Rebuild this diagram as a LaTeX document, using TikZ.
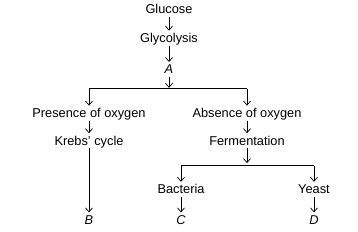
\documentclass[tikz,border=0pt]{standalone}
\usepackage{fontspec}
\setmainfont{Liberation Sans}
\usetikzlibrary{arrows.meta, positioning}

\begin{document}
\begin{tikzpicture}[
        lbl/.style={font=\fontsize{12.8}{15}\selectfont, text height=9.2pt,
                    text depth=2.7pt, inner sep=0pt},
        var/.style={lbl, font=\fontsize{12.8}{15}\selectfont\itshape},
        arr/.style={-{Straight Barb[length=4pt,width=7pt]}, line width=0.7pt,
                    shorten >=2.5pt, shorten <=0.3pt},
        bar/.style={line width=0.7pt}]
      \useasboundingbox (0pt,0pt) rectangle (358pt,-232pt);
      \node[lbl] (glu) at (169pt,-10.75pt) {Glucose};
      \node[lbl, below=16.3pt of glu] (gly) {Glycolysis};
      \node[var, below=19pt of gly] (a) {A};
      \coordinate[below=11.5pt of a] (j1);
      \node[lbl, below=31.3pt of a, xshift=-80pt] (pres) {Presence of oxygen};
      \node[lbl, below=31.3pt of a, xshift=78pt] (abs) {Absence of oxygen};
      \node[lbl, below=15.3pt of pres] (krebs) {Krebs' cycle};
      \node[lbl, below=15.3pt of abs] (ferm) {Fermentation};
      \coordinate[below=17.6pt of ferm] (j2);
      \node[lbl, below=36.3pt of ferm, xshift=-66pt] (bact) {Bacteria};
      \node[lbl, below=36.3pt of ferm, xshift=67pt] (yeast) {Yeast};
      \node[var, below=18.3pt of bact] (c) {C};
      \node[var, below=18.3pt of yeast] (d) {D};
      \node[var] (b) at (krebs |- c) {B};
      % main chain
      \draw[arr] (glu) -- (gly);
      \draw[arr] (gly) -- (a);
      \draw[arr, shorten >=0.5pt] (a) -- (j1);
      \draw[bar] (j1 -| pres) -- (j1 -| abs);
      \draw[arr] (j1 -| pres) -- (pres);
      \draw[arr] (j1 -| abs) -- (abs);
      % aerobic side
      \draw[arr] (pres) -- (krebs);
      \draw[arr] (krebs) -- (b);
      % anaerobic side
      \draw[arr] (abs) -- (ferm);
      \draw[arr] (ferm) -- (j2);
      \draw[bar] (j2 -| bact) -- (j2 -| yeast);
      \draw[arr] (j2 -| bact) -- (bact);
      \draw[arr] (j2 -| yeast) -- (yeast);
      \draw[arr] (bact) -- (c);
      \draw[arr] (yeast) -- (d);
    \end{tikzpicture}
\end{document}
